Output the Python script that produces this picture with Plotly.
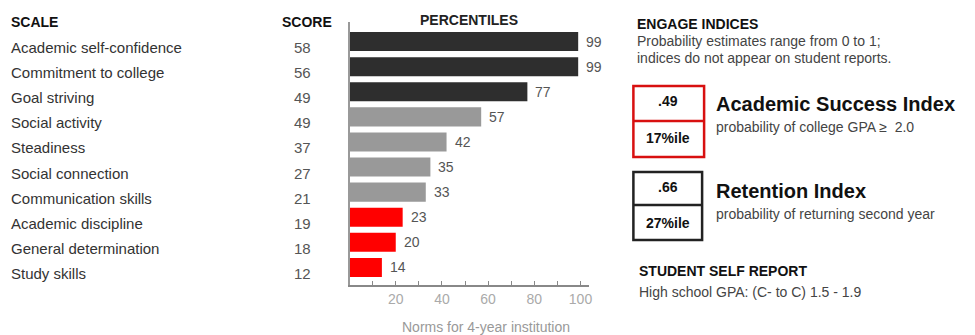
import plotly.graph_objects as go

# ---- data ----
scales = ["Academic self-confidence", "Commitment to college", "Goal striving",
          "Social activity", "Steadiness", "Social connection",
          "Communication skills", "Academic discipline",
          "General determination", "Study skills"]
scores = [58, 56, 49, 49, 37, 27, 21, 19, 18, 12]
percentiles = [99, 99, 77, 57, 42, 35, 33, 23, 20, 14]
bands = ["high", "high", "high", "mid", "mid", "mid", "mid", "low", "low", "low"]
tick_values = [10, 20, 30, 40, 50, 60, 70, 80, 90, 100]
tick_labels = ["", "20", "", "40", "", "60", "", "80", "", "100"]

band_colors = {"high": "#2e2e2e", "mid": "#999999", "low": "#ff0000"}

W, H = 975, 335
TOP, BOT = 22, 50
PLOT_H = H - TOP - BOT
FONT = "Arial, Liberation Sans, Helvetica, sans-serif"


def px(x):
    return x / W


def py(y):
    return (H - BOT - y) / PLOT_H


fig = go.Figure()
fig.add_trace(go.Bar(
    y=scales, x=percentiles, orientation="h",
    marker=dict(color=[band_colors[b] for b in bands], line=dict(width=0)),
    width=0.76, hoverinfo="skip",
))

ann = []
# value labels
for s, p in zip(scales, percentiles):
    ann.append(dict(x=p, y=s, xref="x", yref="y", text=str(p), showarrow=False,
                    xanchor="left", xshift=6, font=dict(size=14, color="#555555", family=FONT)))
# left columns
for s, sc in zip(scales, scores):
    ann.append(dict(x=px(9), y=s, xref="paper", yref="y", text=s, showarrow=False,
                    xanchor="left", yshift=-6, font=dict(size=15, color="#333333", family=FONT)))
    ann.append(dict(x=px(314), y=s, xref="paper", yref="y", text=str(sc), showarrow=False,
                    xanchor="right", yshift=-6, font=dict(size=15, color="#555555", family=FONT)))


def text(x, y, t, size, color="#333333", bold=False, anchor="left"):
    if bold:
        t = "<b>" + t + "</b>"
    ann.append(dict(x=px(x), y=py(y), xref="paper", yref="paper", text=t, showarrow=False,
                    xanchor=anchor, yanchor="middle",
                    font=dict(size=size, color=color, family=FONT)))


text(9, 22, "SCALE", 14, "#111111", True)
text(308, 22, "SCORE", 14, "#111111", True, "center")
text(471, 20, "PERCENTILES", 14, "#222222", True, "center")
text(488, 327, "Norms for 4-year institution", 14, "#999999", False, "center")

text(638, 24, "ENGAGE INDICES", 14, "#111111", True)
text(638, 41, "Probability estimates range from 0 to 1;", 14, "#444444")
text(638, 58, "indices do not appear on student reports.", 14, "#444444")

text(671, 101, ".49", 14, "#111111", True, "center")
text(671, 138, "17%ile", 14, "#111111", True, "center")
text(717, 104, "Academic Success Index", 20, "#111111", True)
text(717, 127, "probability of college GPA ≥  2.0", 14, "#444444")

text(671, 187, ".66", 14, "#111111", True, "center")
text(671, 223, "27%ile", 14, "#111111", True, "center")
text(717, 191, "Retention Index", 20, "#111111", True)
text(717, 214, "probability of returning second year", 14, "#444444")

text(640, 271, "STUDENT SELF REPORT", 14, "#111111", True)
text(640, 292, "High school GPA: (C- to C) 1.5 - 1.9", 14, "#444444")

shapes = []
for (x0, y0, x1, y1, ymid, col) in [(636, 86, 707, 157, 121, "#d81010"),
                                     (636, 172, 705, 240, 205, "#222222")]:
    shapes.append(dict(type="rect", xref="paper", yref="paper", x0=px(x0), x1=px(x1),
                       y0=py(y1), y1=py(y0), line=dict(color=col, width=2.5)))
    shapes.append(dict(type="line", xref="paper", yref="paper", x0=px(x0), x1=px(x1),
                       y0=py(ymid), y1=py(ymid), line=dict(color=col, width=2.5)))

fig.update_layout(
    width=W, height=H,
    margin=dict(l=0, r=0, t=TOP, b=BOT),
    paper_bgcolor="white", plot_bgcolor="white",
    showlegend=False, bargap=0.24,
    annotations=ann, shapes=shapes,
    font=dict(family=FONT),
    xaxis=dict(domain=[px(351), px(591)], range=[0, 103.5], tickvals=tick_values,
               ticktext=tick_labels, ticks="inside", ticklen=4, tickcolor="#888888",
               showline=True, linecolor="#888888", linewidth=2, showgrid=False,
               zeroline=False, tickfont=dict(size=14, color="#aaaaaa", family=FONT),
               fixedrange=True),
    yaxis=dict(range=[9.70, -0.78], showline=True, linecolor="#999999", linewidth=2,
               showticklabels=False, ticks="", showgrid=False, zeroline=False,
               fixedrange=True),
)

fig.write_html("out.html", config={"displayModeBar": False},
               post_script="document.body.style.margin='0px';document.body.style.overflow='hidden';")
